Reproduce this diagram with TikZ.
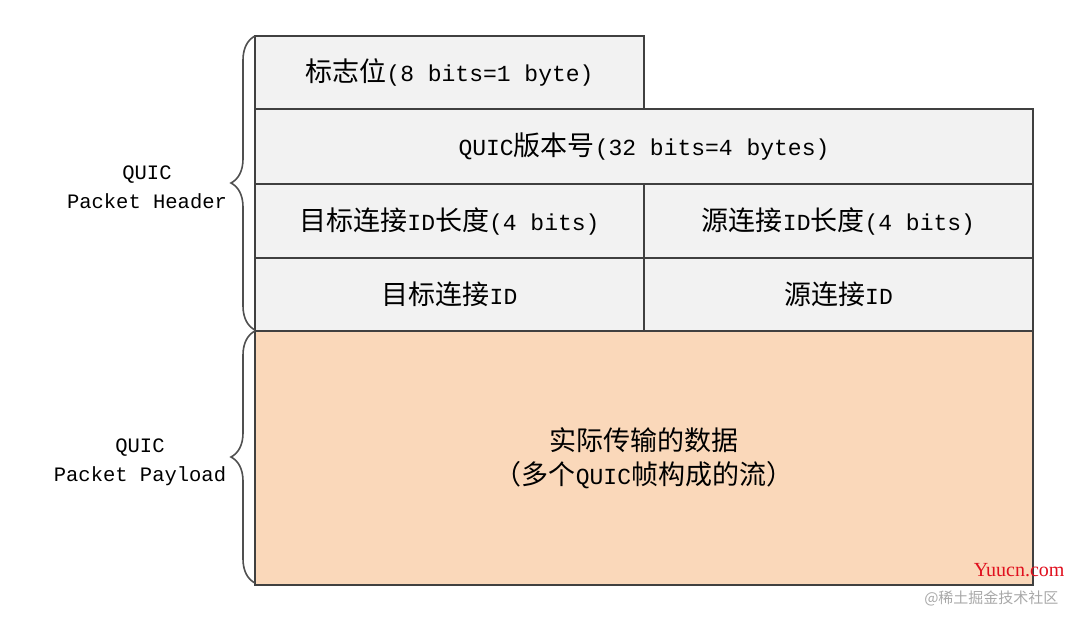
\documentclass[tikz,border=0pt]{standalone}
\usepackage{fontspec}
\setmainfont{Liberation Mono}
\newfontfamily\cjk{Noto Sans CJK SC}
\newfontfamily\wmserif{Liberation Serif}
\usetikzlibrary{decorations.pathreplacing}
\definecolor{cellgray}{HTML}{F2F2F2}
\definecolor{peach}{HTML}{FAD8BA}
\definecolor{edgegray}{HTML}{404040}
\definecolor{bracegray}{HTML}{505050}
\definecolor{wmred}{HTML}{E0101E}
\definecolor{wmgray}{HTML}{A8A8A8}
\newcommand{\zh}[1]{{\cjk\fontsize{27}{27}\selectfont #1}}
\begin{document}
\begin{tikzpicture}[x=1pt,y=-1pt,
  cell/.style={draw=edgegray,line width=1.8pt,fill=cellgray,inner sep=0pt,outer sep=0pt,anchor=north west,
    font=\fontsize{23}{26}\selectfont},
  paycell/.style={cell,fill=peach,align=center,font=\fontsize{23}{34}\selectfont},
  bracelabel/.style={align=center,font=\fontsize{20.5}{29}\selectfont},
  curly/.style={draw=bracegray,line width=1.6pt,decorate,decoration={brace,amplitude=24pt,aspect=0.5}}]
\useasboundingbox (0,0) rectangle (1080,624);
\node[cell,minimum width=389pt,minimum height=73pt] (flag) at (255,36)
  {\zh{标志位}(8 bits=1 byte)};
\node[cell,minimum width=778pt,minimum height=75pt] (ver) at (255,109)
  {QUIC\zh{版本号}(32 bits=4 bytes)};
\node[cell,minimum width=389pt,minimum height=74pt] (dlen) at (255,184)
  {\zh{目标连接}ID\zh{长度}(4 bits)};
\node[cell,minimum width=389pt,minimum height=74pt] (slen) at (644,184)
  {\zh{源连接}ID\zh{长度}(4 bits)};
\node[cell,minimum width=389pt,minimum height=73pt] (did) at (255,258)
  {\zh{目标连接}ID};
\node[cell,minimum width=389pt,minimum height=73pt] (sid) at (644,258)
  {\zh{源连接}ID};
\node[paycell,minimum width=778pt,minimum height=254pt] (pay) at (255,331)
  {\zh{实际传输的数据}\\
   \zh{（多个}QUIC\zh{帧构成的流）}};
\draw[curly] (did.south west) ++(0,-1) coordinate (hb) -- (flag.north west) ++(0,2) coordinate (ht);
\draw[curly] (pay.south west) ++(0,-2) coordinate (pb) -- (pay.north west) ++(0,4) coordinate (pt);
\node[bracelabel] (hlab) at (147,187) {QUIC\\Packet Header};
\node[bracelabel] (plab) at (140,462) {QUIC\\Packet Payload};
\node[font=\wmserif\fontsize{20}{20}\selectfont,text=wmred,anchor=east] (wm1) at (1068,570) {Yuucn.com};
\node[font=\cjk\fontsize{15}{15}\selectfont,text=wmgray,anchor=east] (wm2) at (1062,598) {@稀土掘金技术社区};
\end{tikzpicture}
\end{document}
